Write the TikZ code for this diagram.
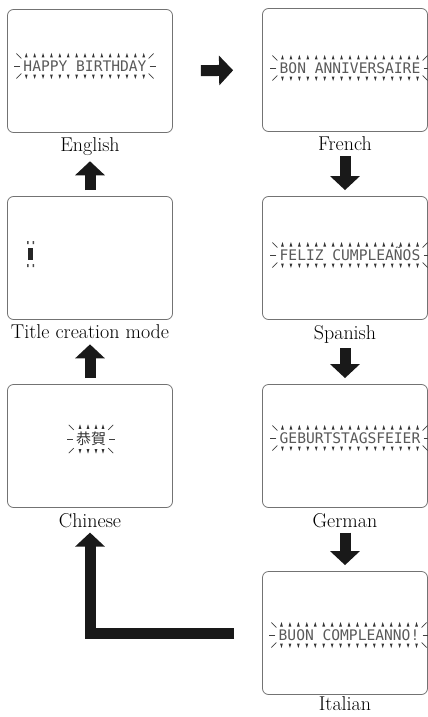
\documentclass[tikz,border=0pt]{standalone}
\usepackage{fontspec}
\newfontfamily\lcdfont{DejaVu Sans Mono}
\newfontfamily\cjkfont{Noto Sans CJK TC}
\usetikzlibrary{arrows.meta, positioning, calc}

\tikzset{
  screen/.style={draw=black!55, line width=0.8pt, rounded corners=6pt,
    minimum width=165pt, minimum height=123pt, inner sep=0pt},
  caption/.style={font=\fontsize{20}{22}\selectfont, inner sep=1pt},
  lcd/.style={font=\lcdfont\fontsize{14.6}{16}\selectfont, text=black!65,
    inner sep=0pt, text height=10.6pt, text depth=0pt},
  bigarrow/.style={line width=11pt, black!90, -{Triangle[length=14pt,width=29pt]}},
  tick/.style={fill=black!80},
  ray/.style={draw=black!75, line width=0.7pt},
}

% ticks above and below an lcd message, rays at both ends
\newcommand\lcdmarks[2]{%
  \coordinate (tl) at ($(#1.north west)+(3,-3)$);
  \coordinate (tr) at ($(#1.north east)+(-3,-3)$);
  \coordinate (bl) at ($(#1.south west)+(3,3)$);
  \coordinate (br) at ($(#1.south east)+(-3,3)$);
  \foreach \i in {0,...,#2} {
    \fill[tick] ($(tl)!\i/#2!(tr)$) ++(-1.4,0) -- ++(2.8,0) -- ++(-1.4,-4.5) -- cycle;
    \fill[tick] ($(bl)!\i/#2!(br)$) ++(-1.4,0) -- ++(2.8,0) -- ++(-1.4,4.5) -- cycle;
  }
  \draw[ray] ($(#1.west)+(-3,0)$) -- ++(-6,0);
  \draw[ray] ($(#1.north west)+(-2,-2)$) -- ++(-5,-5);
  \draw[ray] ($(#1.south west)+(-2,2)$) -- ++(-5,5);
  \draw[ray] ($(#1.east)+(3,0)$) -- ++(6,0);
  \draw[ray] ($(#1.north east)+(2,-2)$) -- ++(5,-5);
  \draw[ray] ($(#1.south east)+(2,2)$) -- ++(5,5);
}

\begin{document}
\begin{tikzpicture}[x=1pt, y=-1pt]
  \useasboundingbox (0,0) rectangle (428,717);

  % screens
  \node[screen] (eng) at (90,71) {};
  \node[screen] (ttl) at (90,258) {};
  \node[screen] (chi) at (90,446) {};
  \node[screen] (fre) at (345,70) {};
  \node[screen] (spa) at (345,258) {};
  \node[screen] (ger) at (345,446) {};
  \node[screen] (ita) at (345,633) {};

  % captions
  \node[caption, below=4pt of eng] (englab) {English};
  \node[caption, below=4pt of ttl] (ttllab) {Title creation mode};
  \node[caption, below=4pt of chi] (chilab) {Chinese};
  \node[caption, below=4pt of fre] (frelab) {French};
  \node[caption, below=4pt of spa] (spalab) {Spanish};
  \node[caption, below=4pt of ger] (gerlab) {German};
  \node[caption, below=1pt of ita] (italab) {Italian};

  % messages
  \node[lcd] (engmsg) at (85,66) {HAPPY BIRTHDAY};
  \node[lcd] (fremsg) at (350,68) {BON ANNIVERSAIRE};
  \node[lcd] (spamsg) at (350,255) {FELIZ CUMPLEAÑOS};
  \node[lcd] (germsg) at (350,438) {GEBURTSTAGSFEIER};
  \node[lcd] (itamsg) at (349,635) {BUON COMPLEANNO!};
  \lcdmarks{engmsg}{14}
  \lcdmarks{fremsg}{16}
  \lcdmarks{spamsg}{16}
  \lcdmarks{germsg}{16}
  \lcdmarks{itamsg}{16}

  % chinese message
  \node[font=\cjkfont\fontsize{15}{15}\selectfont, text=black!80, inner sep=0pt] (chimsg) at (91,439) {恭賀};
  \foreach \x in {-11,-3,5,12} {
    \fill[tick] ($(chimsg.north)+(\x,-3)$) ++(-1.4,0) -- ++(2.8,0) -- ++(-1.4,-4.5) -- cycle;
    \fill[tick] ($(chimsg.south)+(\x,3)$) ++(-1.4,0) -- ++(2.8,0) -- ++(-1.4,4.5) -- cycle;
  }
  \draw[ray] ($(chimsg.west)+(-3,0)$) -- ++(-6,0);
  \draw[ray] ($(chimsg.north west)+(-2,-2)$) -- ++(-5,-5);
  \draw[ray] ($(chimsg.south west)+(-2,2)$) -- ++(-5,5);
  \draw[ray] ($(chimsg.east)+(3,0)$) -- ++(6,0);
  \draw[ray] ($(chimsg.north east)+(2,-2)$) -- ++(5,-5);
  \draw[ray] ($(chimsg.south east)+(2,2)$) -- ++(5,5);

  % cursor
  \fill[black!85] (28,248) rectangle (33,260);
  \fill[black!70] (27,241) rectangle (28.5,244) (32.5,241) rectangle (34,244);
  \fill[black!70] (27,264) rectangle (28.5,267) (32.5,264) rectangle (34,267);

  % arrows
  \draw[bigarrow, shorten <=28pt, shorten >=29pt] (eng.east) -- (fre.west);
  \draw[bigarrow, shorten <=4pt, shorten >=6pt] (frelab.south) -- (spa.north);
  \draw[bigarrow, shorten <=4pt, shorten >=6pt] (spalab.south) -- (ger.north);
  \draw[bigarrow, shorten <=4pt, shorten >=6pt] (gerlab.south) -- (ita.north);
  \draw[bigarrow, shorten <=6pt, shorten >=4pt] (ttl.north) -- (englab.south);
  \draw[bigarrow, shorten <=6pt, shorten >=4pt] (chi.north) -- (ttllab.south);
  \draw[bigarrow, shorten <=28pt, shorten >=4pt] (ita.west) -| (chilab.south);
\end{tikzpicture}
\end{document}
